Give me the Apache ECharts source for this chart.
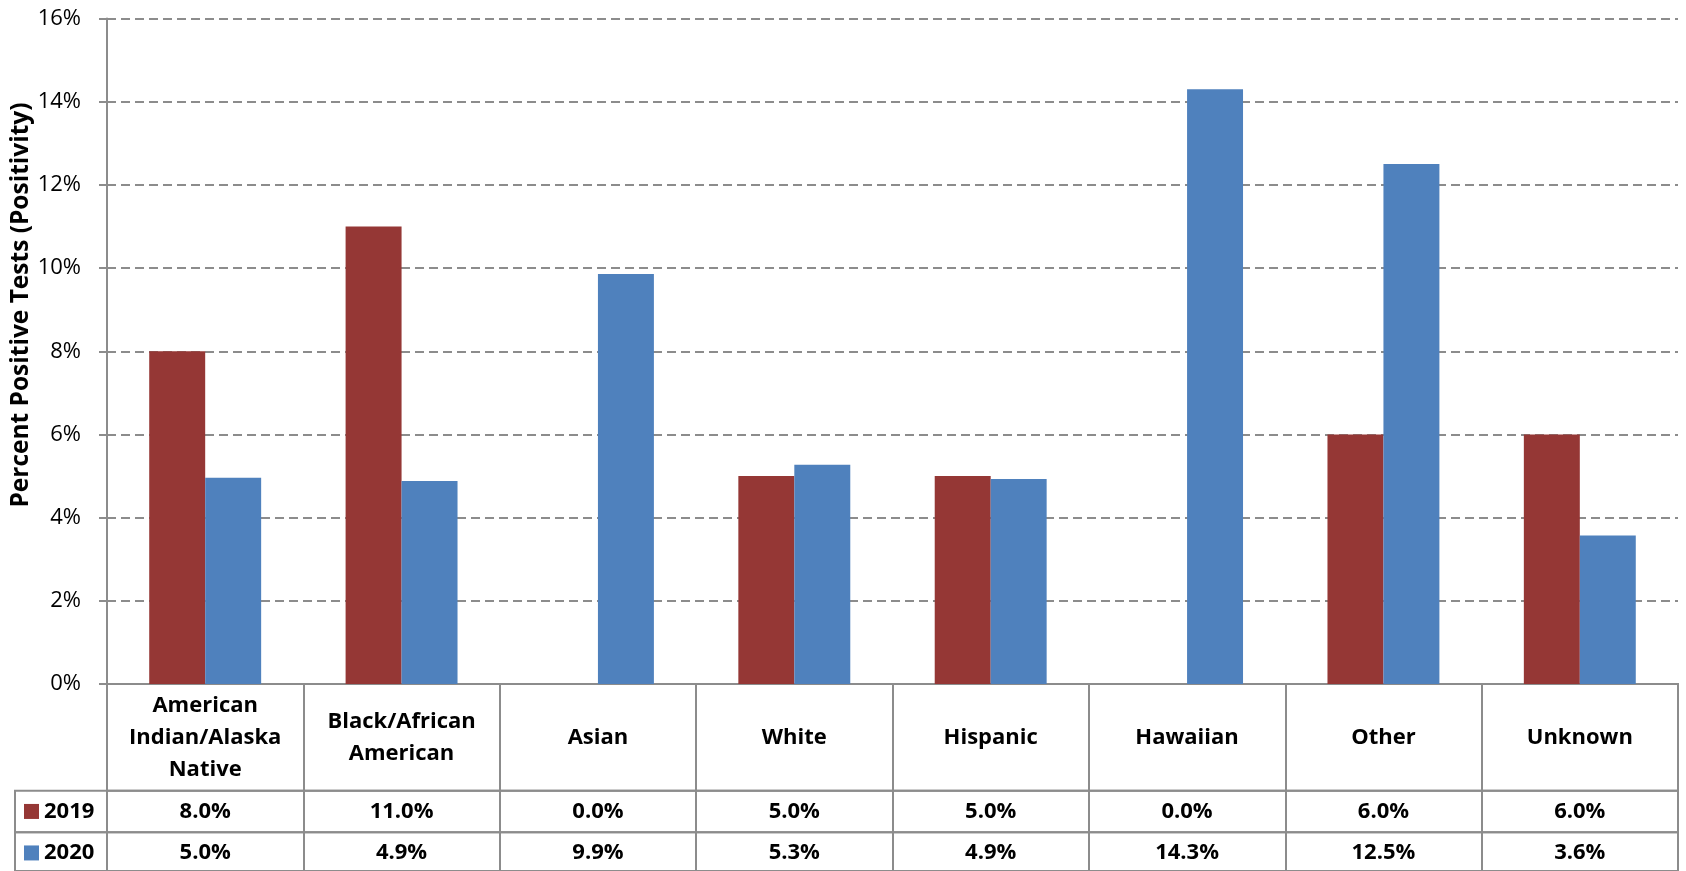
<!DOCTYPE html>
<html><head><meta charset="utf-8">
<script src="https://cdn.jsdelivr.net/npm/echarts@6/dist/echarts.min.js"></script>
<style>html,body{margin:0;padding:0;background:#fff}#c{width:1686px;height:871px}</style>
</head><body><div id="c"></div>
<script>
const categories = ['American\nIndian/Alaska\nNative', 'Black/African\nAmerican', 'Asian', 'White', 'Hispanic', 'Hawaiian', 'Other', 'Unknown'];
const seriesNames = ['2019', '2020'];
const values2019 = [8.0, 11.0, 0.0, 5.0, 5.0, 0.0, 6.0, 6.0];
const values2020 = [4.96, 4.88, 9.86, 5.27, 4.93, 14.3, 12.5, 3.57];
const yTicks = [0, 2, 4, 6, 8, 10, 12, 14, 16];
const yTitle = 'Percent Positive Tests (Positivity)';

const colors = ['#953735', '#4F81BD'];
const GRAY = '#8c8c8c';
const FONT = '"Open Sans", "Liberation Sans", sans-serif';
const L = 107, R = 8;
const axisY = 684, catRowH = 106.7, rowH = 41.5;

const chart = echarts.init(document.getElementById('c'), null, {renderer: 'canvas'});
const border = {show: true, borderColor: GRAY, borderWidth: 2, backgroundColor: 'transparent'};
const hiddenX = (g) => ({type: 'category', gridIndex: g, data: [''], show: false});
const hiddenY = (g) => ({type: 'value', gridIndex: g, show: false});
const rowX = (g, fmt, margin) => ({
  type: 'category', gridIndex: g, position: 'top', data: categories,
  axisLine: {show: false}, axisTick: {show: false},
  splitLine: {show: true, interval: 0, lineStyle: {color: GRAY, width: 2}},
  axisLabel: {interval: 0, margin: margin, verticalAlign: 'middle', align: 'center',
    fontFamily: FONT, fontWeight: 'bold', fontSize: 22, lineHeight: 32, color: '#000',
    formatter: fmt}
});

const option = {
  animation: false,
  backgroundColor: '#fff',
  color: colors,
  grid: [
    {left: L, right: R, top: 18.5, height: axisY - 18.5},
    Object.assign({left: L, right: R, top: axisY, height: catRowH}, border),
    Object.assign({left: L, right: R, top: axisY + catRowH, height: rowH}, border),
    Object.assign({left: L, right: R, top: axisY + catRowH + rowH, height: 45}, border),
    Object.assign({left: 15, width: L - 15, top: axisY + catRowH, height: rowH}, border),
    Object.assign({left: 15, width: L - 15, top: axisY + catRowH + rowH, height: 45}, border)
  ],
  legend: {
    data: seriesNames, orient: 'vertical', left: 24, top: axisY + catRowH + rowH / 2 - 11,
    itemWidth: 15, itemHeight: 15, itemGap: rowH - 22, icon: 'rect', selectedMode: false,
    padding: 0,
    textStyle: {fontFamily: FONT, fontWeight: 'bold', fontSize: 22, lineHeight: 22, color: '#000'}
  },
  xAxis: [
    {type: 'category', gridIndex: 0, data: categories,
     axisLine: {lineStyle: {color: GRAY, width: 2}}, axisTick: {show: false}, axisLabel: {show: false}},
    rowX(1, (v) => v, -catRowH / 2),
    rowX(2, (v, i) => values2019[i].toFixed(1) + '%', -rowH / 2),
    rowX(3, (v, i) => values2020[i].toFixed(1) + '%', -rowH / 2),
    hiddenX(4), hiddenX(5)
  ],
  yAxis: [
    {type: 'value', gridIndex: 0, min: yTicks[0], max: yTicks[yTicks.length - 1], interval: yTicks[1] - yTicks[0],
     axisLine: {show: true, lineStyle: {color: GRAY, width: 2}},
     axisTick: {show: true, length: 8, lineStyle: {color: GRAY, width: 2}},
     splitLine: {show: true, lineStyle: {color: GRAY, width: 2, type: [9, 5]}},
     axisLabel: {formatter: '{value}%', margin: 26, fontFamily: FONT, fontSize: 22, color: '#000'}},
    hiddenY(1), hiddenY(2), hiddenY(3), hiddenY(4), hiddenY(5)
  ],
  series: [
    {name: seriesNames[0], type: 'bar', xAxisIndex: 0, yAxisIndex: 0, data: values2019,
     barGap: '0%', barCategoryGap: '43%', itemStyle: {color: colors[0]}},
    {name: seriesNames[1], type: 'bar', xAxisIndex: 0, yAxisIndex: 0, data: values2020,
     barGap: '0%', barCategoryGap: '43%', itemStyle: {color: colors[1]}}
  ],
  graphic: [
    {type: 'text', x: 21, y: 305, rotation: Math.PI / 2,
     style: {text: yTitle, align: 'center', verticalAlign: 'middle',
       font: 'bold 24.5px ' + FONT, fill: '#000'}}
  ]
};
chart.setOption(option);
</script></body></html>
